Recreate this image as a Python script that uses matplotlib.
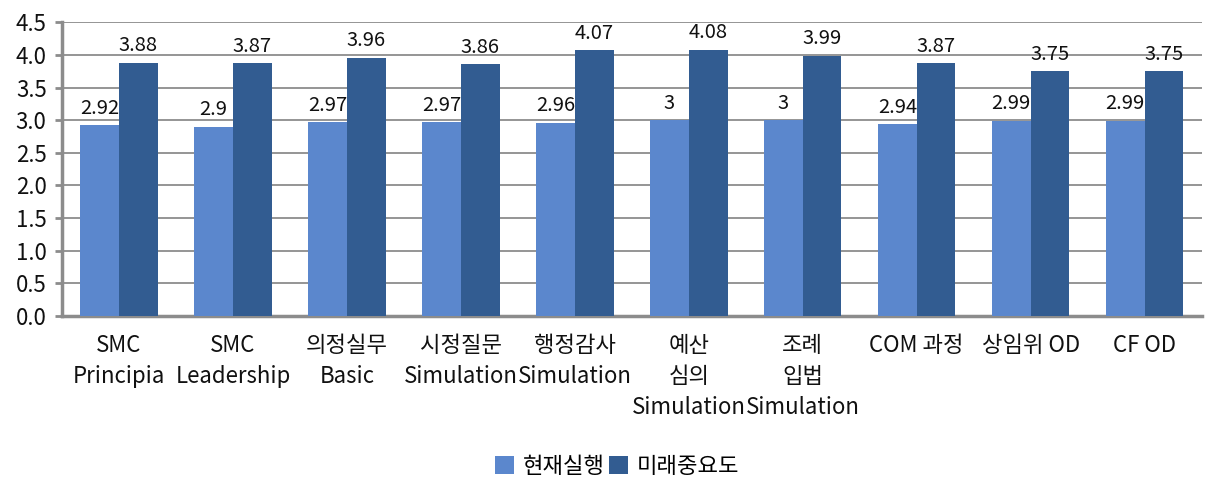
import matplotlib.pyplot as plt
import numpy as np

plt.rcParams['font.family'] = ['Noto Sans CJK KR', 'DejaVu Sans']

categories = ['SMC\nPrincipia', 'SMC\nLeadership', '의정실무\nBasic', '시정질문\nSimulation',
              '행정감사\nSimulation', '예산\n심의\nSimulation', '조례\n입법\nSimulation',
              'COM 과정', '상임위 OD', 'CF OD']
current = [2.92, 2.9, 2.97, 2.97, 2.96, 3, 3, 2.94, 2.99, 2.99]
future = [3.88, 3.87, 3.96, 3.86, 4.07, 4.08, 3.99, 3.87, 3.75, 3.75]
series_names = ['현재실행', '미래중요도']
yticks = [0.0, 0.5, 1.0, 1.5, 2.0, 2.5, 3.0, 3.5, 4.0, 4.5]

light = '#5B87CD'
dark = '#325C91'
grid_c = '#8C8C8C'

fig = plt.figure(figsize=(12.15, 4.84), dpi=100)
ax = fig.add_axes([0.051, 0.347, 0.938, 0.607])

x = np.arange(len(categories))
w = 0.34
b1 = ax.bar(x - w / 2, current, w, color=light, label=series_names[0], zorder=3)
b2 = ax.bar(x + w / 2, future, w, color=dark, label=series_names[1], zorder=3)

for rect, v in zip(b1, current):
    ax.text(rect.get_x() + rect.get_width() / 2, v + 0.1, f'{v:g}',
            ha='center', va='bottom', fontsize=14.5, color='#111111', zorder=4)
for rect, v in zip(b2, future):
    ax.text(rect.get_x() + rect.get_width() / 2, v + 0.1, f'{v:g}',
            ha='center', va='bottom', fontsize=14.5, color='#111111', zorder=4)

ax.set_xlim(-0.5, len(categories) - 0.5)
ax.set_ylim(0, 4.5)
ax.set_yticks(yticks)
ax.set_yticklabels([f'{t:.1f}' for t in yticks], fontsize=16, color='#111111')
ax.yaxis.grid(True, color=grid_c, linewidth=1.3, zorder=0)
ax.set_axisbelow(True)

ax.set_xticks(x)
ax.set_xticklabels(categories, fontsize=16, color='#111111', linespacing=1.45)
ax.tick_params(axis='x', length=0, pad=13)
ax.tick_params(axis='y', length=5, width=2, color=grid_c, pad=6)

for s in ['top', 'right']:
    ax.spines[s].set_visible(False)
for s in ['left', 'bottom']:
    ax.spines[s].set_color(grid_c)
    ax.spines[s].set_linewidth(2.5)

fig.legend(handles=[b1, b2], labels=series_names, loc='center', bbox_to_anchor=(0.508, 0.037),
           ncol=2, frameon=False, fontsize=16, handlelength=0.85, handleheight=0.85,
           handletextpad=0.4, columnspacing=0.2)

fig.savefig('out.png', dpi=100)
